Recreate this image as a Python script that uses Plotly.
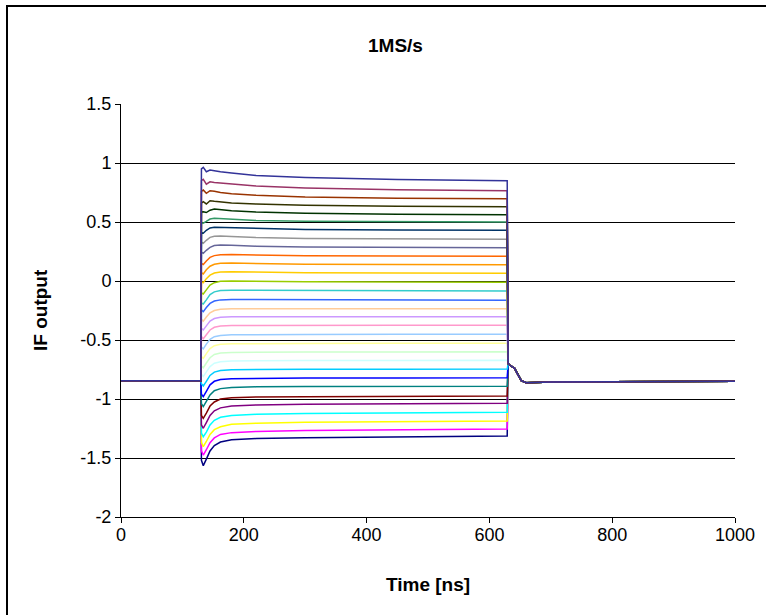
import plotly.graph_objects as go

# ---- data ----
title_text = "1MS/s"
x_title = "Time [ns]"
y_title = "IF output"

# baseline before the pulse
t_pre = [0, 130]
v_pre = [-0.845, -0.845]

# transient / plateau sample times during the pulse
t_pulse = [131, 134, 139, 145, 152, 162, 180, 220, 300, 450, 629]

# per-series values at t_pulse (series 1 = bottom ... series 31 = top)
s01 = [-1.52, -1.565, -1.51, -1.44, -1.395, -1.365, -1.345, -1.335, -1.328, -1.32, -1.314]
s02 = [-1.44, -1.475, -1.43, -1.37, -1.33, -1.30, -1.285, -1.275, -1.268, -1.26, -1.254]
s03 = [-1.37, -1.404, -1.36, -1.30, -1.26, -1.235, -1.215, -1.205, -1.198, -1.19, -1.186]
s04 = [-1.29, -1.32, -1.28, -1.22, -1.18, -1.155, -1.14, -1.13, -1.123, -1.118, -1.113]
s05 = [-1.22, -1.248, -1.20, -1.14, -1.10, -1.075, -1.06, -1.05, -1.045, -1.04, -1.036]
s06 = [-1.14, -1.164, -1.12, -1.06, -1.025, -1.00, -0.99, -0.983, -0.98, -0.978, -0.975]
s07 = [-1.04, -1.065, -1.02, -0.965, -0.93, -0.912, -0.902, -0.897, -0.895, -0.894, -0.892]
s08 = [-0.96, -0.98, -0.935, -0.88, -0.85, -0.835, -0.828, -0.824, -0.822, -0.821, -0.82]
s09 = [-0.87, -0.89, -0.85, -0.80, -0.772, -0.758, -0.752, -0.749, -0.748, -0.747, -0.746]
s10 = [-0.79, -0.81, -0.77, -0.725, -0.697, -0.684, -0.678, -0.675, -0.674, -0.673, -0.672]
s11 = [-0.72, -0.735, -0.695, -0.65, -0.622, -0.61, -0.605, -0.603, -0.602, -0.601, -0.60]
s12 = [-0.64, -0.655, -0.615, -0.572, -0.548, -0.537, -0.532, -0.53, -0.529, -0.528, -0.528]
s13 = [-0.56, -0.575, -0.535, -0.495, -0.472, -0.461, -0.456, -0.454, -0.453, -0.452, -0.452]
s14 = [-0.47, -0.49, -0.455, -0.415, -0.392, -0.382, -0.378, -0.377, -0.376, -0.376, -0.375]
s15 = [-0.40, -0.415, -0.38, -0.34, -0.318, -0.308, -0.304, -0.303, -0.303, -0.303, -0.303]
s16 = [-0.325, -0.34, -0.305, -0.27, -0.25, -0.24, -0.236, -0.235, -0.235, -0.236, -0.236]
s17 = [-0.245, -0.26, -0.225, -0.19, -0.17, -0.16, -0.157, -0.158, -0.16, -0.162, -0.163]
s18 = [-0.185, -0.195, -0.16, -0.115, -0.092, -0.08, -0.078, -0.079, -0.082, -0.084, -0.085]
s19 = [-0.10, -0.11, -0.075, -0.035, -0.014, -0.003, 0.0, -0.003, -0.007, -0.009, -0.011]
s20 = [-0.005, -0.015, 0.02, 0.05, 0.068, 0.076, 0.078, 0.074, 0.07, 0.067, 0.065]
s21 = [0.07, 0.06, 0.095, 0.125, 0.142, 0.15, 0.152, 0.148, 0.143, 0.14, 0.138]
s22 = [0.15, 0.14, 0.17, 0.20, 0.215, 0.222, 0.224, 0.22, 0.215, 0.211, 0.209]
s23 = [0.245, 0.235, 0.26, 0.285, 0.30, 0.305, 0.303, 0.295, 0.288, 0.284, 0.282]
s24 = [0.33, 0.32, 0.345, 0.37, 0.38, 0.382, 0.377, 0.368, 0.36, 0.356, 0.353]
s25 = [0.41, 0.405, 0.43, 0.45, 0.456, 0.455, 0.45, 0.443, 0.437, 0.433, 0.43]
s26 = [0.495, 0.49, 0.505, 0.525, 0.531, 0.528, 0.522, 0.513, 0.506, 0.502, 0.50]
s27 = [0.585, 0.587, 0.58, 0.60, 0.61, 0.605, 0.595, 0.584, 0.574, 0.566, 0.562]
s28 = [0.66, 0.672, 0.653, 0.68, 0.675, 0.668, 0.66, 0.652, 0.642, 0.634, 0.63]
s29 = [0.76, 0.771, 0.743, 0.765, 0.76, 0.75, 0.74, 0.727, 0.712, 0.702, 0.697]
s30 = [0.85, 0.862, 0.82, 0.84, 0.835, 0.83, 0.82, 0.805, 0.788, 0.773, 0.765]
s31 = [0.95, 0.963, 0.926, 0.94, 0.935, 0.925, 0.915, 0.895, 0.877, 0.86, 0.85]

series_values = [s01, s02, s03, s04, s05, s06, s07, s08, s09, s10, s11, s12, s13, s14, s15,
                 s16, s17, s18, s19, s20, s21, s22, s23, s24, s25, s26, s27, s28, s29, s30, s31]

# settling after the pulse (common to all series)
t_post = [630.5, 633, 641, 647, 652, 660, 700, 1000]
v_post = [-0.70, -0.712, -0.74, -0.80, -0.845, -0.862, -0.855, -0.85]

# Excel default series colours
series_colors = ["#000080", "#FF00FF", "#FFFF00", "#00FFFF", "#800080", "#800000", "#008080",
                 "#0000FF", "#00CCFF", "#CCFFFF", "#CCFFCC", "#FFFF99", "#99CCFF", "#FF99CC",
                 "#CC99FF", "#FFCC99", "#3366FF", "#33CCCC", "#99CC00", "#FFCC00", "#FF9900",
                 "#FF6600", "#666699", "#969696", "#003366", "#339966", "#003300", "#333300",
                 "#993300", "#993366", "#333399"]

x_ticks = [0, 200, 400, 600, 800, 1000]
y_ticks = [-2, -1.5, -1, -0.5, 0, 0.5, 1, 1.5]
y_tick_text = ["-2", "-1.5", "-1", "-0.5", "0", "0.5", "1", "1.5"]

# ---- figure ----
FONT = "Liberation Sans, Arial, sans-serif"
W, H = 766, 615
L_, R_, T_, B_ = 121, 735, 104, 517

fig = go.Figure()
for vals, col in zip(series_values, series_colors):
    fig.add_trace(go.Scatter(
        x=t_pre + t_pulse + t_post,
        y=v_pre + vals + v_post,
        mode="lines",
        line=dict(color=col, width=1.5),
        showlegend=False,
        hoverinfo="skip",
    ))

def px(xp):
    return (xp - L_) / (R_ - L_)

def py(yp):
    return (B_ - yp) / (B_ - T_)

fig.update_layout(
    width=W, height=H,
    margin=dict(l=L_, r=W - R_, t=T_, b=H - B_, pad=0),
    paper_bgcolor="white", plot_bgcolor="white",
    font=dict(family=FONT, size=18, color="black"),
    xaxis=dict(range=[0, 1000], tickvals=x_ticks, showgrid=False, zeroline=False,
               showline=True, linecolor="black", linewidth=1,
               ticks="outside", ticklen=5, tickcolor="black", tickwidth=1,
               ticklabelstandoff=-4,
               tickfont=dict(family=FONT, size=18, color="black")),
    yaxis=dict(range=[-2, 1.5], tickvals=y_ticks, ticktext=y_tick_text,
               showgrid=True, gridcolor="black", gridwidth=1, zeroline=False,
               showline=True, linecolor="black", linewidth=1,
               ticks="outside", ticklen=5, tickcolor="black", tickwidth=1,
               tickfont=dict(family=FONT, size=18, color="black")),
    annotations=[
        dict(text="<b>" + title_text + "</b>", xref="paper", yref="paper",
             x=px(395), y=py(45), xanchor="center", yanchor="middle",
             showarrow=False, font=dict(family=FONT, size=19)),
        dict(text="<b>" + y_title + "</b>", xref="paper", yref="paper",
             x=px(40), y=py(310), xanchor="center", yanchor="middle",
             showarrow=False, textangle=-90, font=dict(family=FONT, size=19)),
        dict(text="<b>" + x_title + "</b>", xref="paper", yref="paper",
             x=px(428), y=py(584), xanchor="center", yanchor="middle",
             showarrow=False, font=dict(family=FONT, size=19)),
    ],
    shapes=[
        dict(type="rect", xref="paper", yref="paper",
             x0=px(7), x1=px(800), y0=py(650), y1=py(6),
             line=dict(color="black", width=2), fillcolor="rgba(0,0,0,0)", layer="below"),
    ],
)

fig.write_html("out.html", config={"displayModeBar": False},
               post_script="document.body.style.margin='0';document.body.style.padding='0';")
